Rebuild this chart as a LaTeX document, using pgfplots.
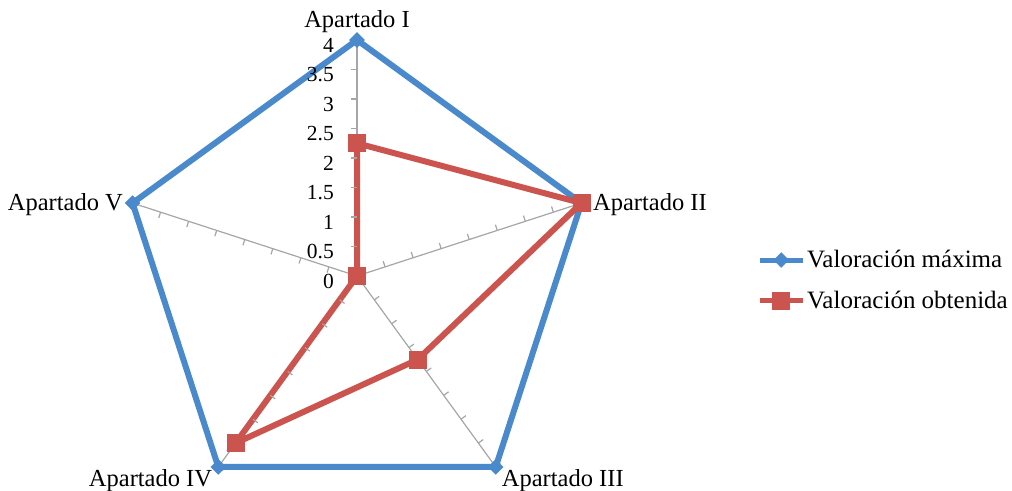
\documentclass[border=0pt]{standalone}
\usepackage{pgfplots}
\pgfplotsset{compat=1.18}
\usepackage{fontspec}
\setmainfont{Liberation Serif}
\definecolor{maxblue}{HTML}{4A89CB}
\definecolor{obtred}{HTML}{CB544F}
\definecolor{spoke}{HTML}{A6A6A6}
\newcommand\chfont{\fontsize{24.5}{29}\selectfont}
\newcommand\lgfont{\fontsize{25}{29}\selectfont}
\newcommand\tkfont{\fontsize{21.5}{25}\selectfont}
% short tick on one side of a spoke
\pgfdeclareplotmark{sptick}{\pgfpathmoveto{\pgfqpoint{0pt}{0pt}}\pgfpathlineto{\pgfqpoint{0pt}{6pt}}\pgfusepathqstroke}

\begin{document}
\begin{tikzpicture}
\begin{axis}[
  x=59pt, y=59pt,
  xmin=-6.0508, xmax=11.1017, ymin=-3.6271, ymax=4.678,
  hide axis, clip=false,
  data cs=polar,
  legend cell align=left,
  legend style={at={(rel axis cs:0.748,0.4276)}, anchor=west, draw=none, fill=none,
    inner sep=0pt, row sep=18pt, font=\lgfont, nodes={inner sep=2pt}},
  legend image code/.code={\draw[line width=5pt, mark repeat=2,mark phase=2] plot coordinates {(0pt,0pt) (21.5pt,0pt) (43pt,0pt)};},
  spk/.style={spoke, line width=1.2pt, forget plot},
  tck/.style={spoke, line width=1.2pt, forget plot, only marks, mark=sptick, mark options={rotate=#1}},
  lab/.style={draw=none, forget plot, nodes near coords, point meta=explicit symbolic,
    every node near coord/.append style={text=black, inner sep=0pt, font=\chfont, #1}},
]
% spokes
\addplot[spk] coordinates {(90,0) (90,4)};
\addplot[spk] coordinates {(18,0) (18,4)};
\addplot[spk] coordinates {(-54,0) (-54,4)};
\addplot[spk] coordinates {(-126,0) (-126,4)};
\addplot[spk] coordinates {(162,0) (162,4)};
% tick marks
\addplot[tck=90] coordinates {(90,0.5) (90,1) (90,1.5) (90,2) (90,2.5) (90,3) (90,3.5) (90,4)};
\addplot[tck=18] coordinates {(18,0.5) (18,1) (18,1.5) (18,2) (18,2.5) (18,3) (18,3.5) (18,4)};
\addplot[tck=-54] coordinates {(-54,0.5) (-54,1) (-54,1.5) (-54,2) (-54,2.5) (-54,3) (-54,3.5) (-54,4)};
\addplot[tck=-126] coordinates {(-126,0.5) (-126,1) (-126,1.5) (-126,2) (-126,2.5) (-126,3) (-126,3.5) (-126,4)};
\addplot[tck=162] coordinates {(162,0.5) (162,1) (162,1.5) (162,2) (162,2.5) (162,3) (162,3.5) (162,4)};

% series
\addplot[maxblue, line width=6pt, mark=square*, mark size=5.2pt,
  mark options={rotate=45, solid, line width=0.5pt}]
  coordinates {(90,4) (18,4) (-54,4) (-126,4) (162,4) (90,4)};
\addlegendentry{Valoración máxima}
\addplot[obtred, line width=6pt, mark=square*, mark size=8.5pt,
  mark options={solid, line width=0.5pt}]
  coordinates {(90,2.25) (18,4) (-54,1.75) (-126,3.5) (162,0) (90,2.25)};
\addlegendentry{Valoración obtenida}

% radial tick labels
\addplot[lab={anchor=east, xshift=-23pt, yshift=-5pt, font=\tkfont}] coordinates {
  (90,0) [0] (90,0.5) [0.5] (90,1) [1] (90,1.5) [1.5] (90,2) [2]
  (90,2.5) [2.5] (90,3) [3] (90,3.5) [3.5] (90,4) [4]};
% category labels
\addplot[lab={anchor=south, yshift=7pt}] coordinates {(90,4) [Apartado I]};
\addplot[lab={anchor=west, xshift=11.5pt, yshift=-1.5pt}] coordinates {(18,4) [Apartado II]};
\addplot[lab={anchor=north west, xshift=6pt, yshift=-2pt}] coordinates {(-54,4) [Apartado III]};
\addplot[lab={anchor=north east, xshift=-6pt, yshift=-2pt}] coordinates {(-126,4) [Apartado IV]};
\addplot[lab={anchor=east, xshift=-9.5pt, yshift=-1.5pt}] coordinates {(162,4) [Apartado V]};
\path (rel axis cs:0,0) rectangle (rel axis cs:1,1);
\end{axis}
\pgfresetboundingbox
\useasboundingbox (current axis.south west) rectangle (current axis.north east);
\end{tikzpicture}
\end{document}
